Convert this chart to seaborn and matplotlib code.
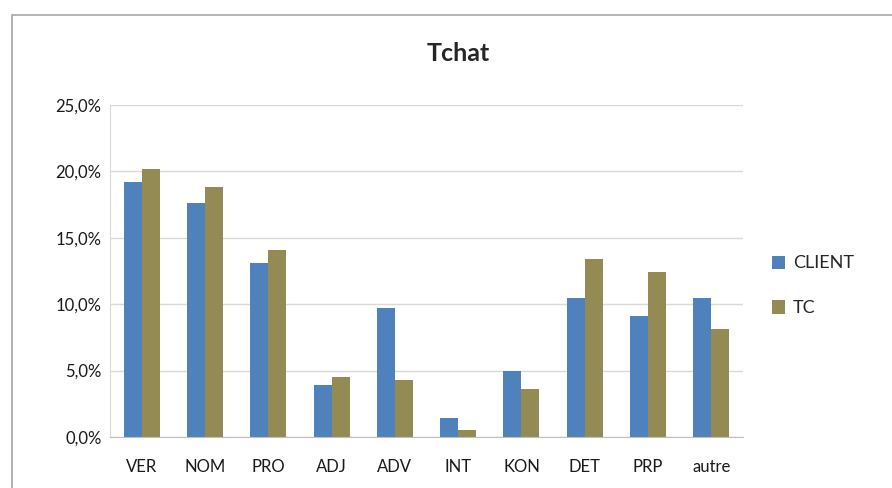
import matplotlib
matplotlib.use("Agg")
import matplotlib.pyplot as plt
from matplotlib.patches import Rectangle
from matplotlib.ticker import FuncFormatter, FixedLocator
import seaborn as sns
import pandas as pd

# data (percent)
categories = ["VER", "NOM", "PRO", "ADJ", "ADV", "INT", "KON", "DET", "PRP", "autre"]
client = [19.2, 17.6, 13.1, 3.9, 9.7, 1.4, 5.0, 10.5, 9.1, 10.5]
tc = [20.2, 18.8, 14.1, 4.5, 4.3, 0.55, 3.6, 13.4, 12.4, 8.1]
series_names = ["CLIENT", "TC"]
colors = ["#4F81BD", "#948A54"]

df = pd.DataFrame({
    "cat": categories * 2,
    "val": client + tc,
    "series": [series_names[0]] * len(categories) + [series_names[1]] * len(categories),
})

sns.set_style("white")
plt.rcParams["font.family"] = ["Lato", "DejaVu Sans"]

fig = plt.figure(figsize=(8.92, 4.88), dpi=100)
ax = fig.add_axes([110 / 892, 51 / 488, 633 / 892, 332 / 488])

sns.barplot(data=df, x="cat", y="val", hue="series", palette=colors,
            width=0.57, saturation=1, ax=ax, linewidth=0)

ax.set_xlim(-0.5, len(categories) - 0.5)
ax.set_ylim(0, 25)
ax.set_yticks([0, 5, 10, 15, 20, 25])
ax.yaxis.set_major_formatter(FuncFormatter(lambda v, p: f"{v:.1f}%".replace(".", ",")))
ax.grid(axis="y", color="#D9D9D9", linewidth=1)
ax.set_axisbelow(True)
ax.set_xlabel("")
ax.set_ylabel("")

for s in ["top", "right"]:
    ax.spines[s].set_visible(False)
ax.spines["left"].set_color("#D9D9D9")
ax.spines["bottom"].set_color("#BFBFBF")

# category boundary ticks on x, labels centred
ax.tick_params(axis="x", which="major", length=0, labelsize=12, colors="#1a1a1a", pad=16)
ax.xaxis.set_minor_locator(FixedLocator([i - 0.5 for i in range(len(categories) + 1)]))
ax.tick_params(axis="x", which="minor", length=5, color="#BFBFBF", direction="out")
ax.tick_params(axis="y", length=4, color="#D9D9D9", labelsize=12, colors="#1a1a1a", pad=2)

ax.set_title("Tchat", fontsize=18, fontweight="bold", pad=32, x=0.55)

handles, labels = ax.get_legend_handles_labels()
ax.legend(handles, labels, loc="center left", bbox_to_anchor=(1.02, 0.455),
          frameon=False, fontsize=13, handlelength=0.75, handleheight=0.75,
          handletextpad=0.4, labelspacing=1.6)

# outer chart border
fig.patches.append(Rectangle((12 / 892, -0.1), 1.2, (488 - 15) / 488 + 0.1,
                             transform=fig.transFigure, fill=False,
                             edgecolor="#A6A6A6", linewidth=1.2))

fig.savefig("out.png", dpi=100)
